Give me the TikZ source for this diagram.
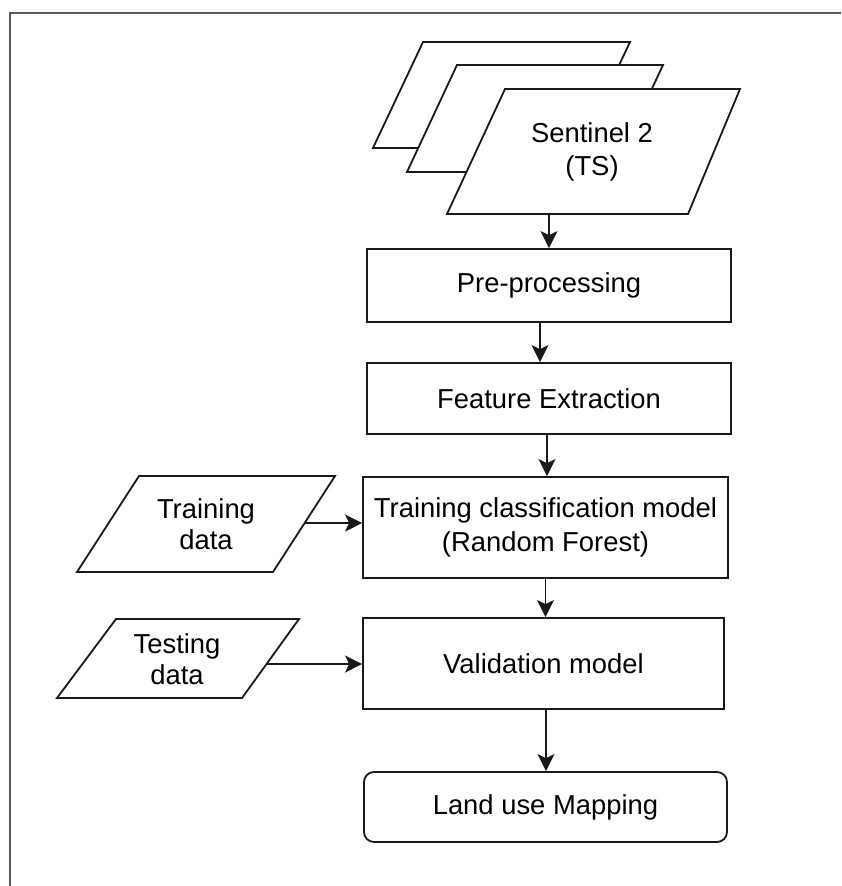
\documentclass[tikz,border=0pt]{standalone}
\usepackage{fontspec}
\setmainfont{Liberation Sans}
\usetikzlibrary{arrows.meta,calc}
\begin{document}
\begin{tikzpicture}[x=1pt,y=-1pt,
  lbl/.style={align=center,font=\fontsize{27.4}{33}\selectfont},
  datalbl/.style={align=center,font=\fontsize{27.4}{31}\selectfont},
  stepbox/.style={draw=black!90,line width=1.8pt,fill=white,minimum width=#1,inner sep=0pt,
    align=center,font=\fontsize{27.4}{34}\selectfont},
  para/.style={draw=black!90,line width=1.8pt,fill=white,line join=miter},
  arr/.style={draw=black!90,line width=1.8pt,-{Stealth[length=17pt,width=17pt,inset=4pt]}},
  frame/.style={draw=black!65,line width=2pt}]
\useasboundingbox (0,0) rectangle (841,886);
\draw[frame] (10,886) -- (10,13) -- (841,13);

% Sentinel stack
\coordinate (s1tl) at (423,42); \coordinate (s1tr) at (630,42);
\coordinate (s1br) at (580,148); \coordinate (s1bl) at (373,148);
\coordinate (s2tl) at (457,65); \coordinate (s2tr) at (663,65);
\coordinate (s2br) at (613,172); \coordinate (s2bl) at (407,172);
\coordinate (s3tl) at (505,89); \coordinate (s3tr) at (740,89);
\coordinate (s3br) at (688,214); \coordinate (s3bl) at (447,214);
\draw[para] (s1tl) -- (s1tr) -- (s1br) -- (s1bl) -- cycle;
\draw[para] (s2tl) -- (s2tr) -- (s2br) -- (s2bl) -- cycle;
\draw[para] (s3tl) -- (s3tr) -- (s3br) -- (s3bl) -- cycle;
\node[lbl] (sent) at (592,152) {Sentinel 2\\(TS)};

% main boxes
\node[stepbox=364pt,minimum height=73pt] (pre) at (549,285.5) {Pre-processing};
\node[stepbox=364pt,minimum height=71pt] (feat) at (549,398.5) {Feature Extraction};
\node[stepbox=365pt,minimum height=101pt] (train) at (545.5,527.5) {Training classification model\\(Random Forest)};
\node[stepbox=361pt,minimum height=91pt] (valid) at (543.5,663.5) {Validation model};
\node[stepbox=363pt,minimum height=70pt,rounded corners=10pt] (land) at (545.5,807) {Land use Mapping};

% data parallelograms
\coordinate (trtl) at (139,476); \coordinate (trtr) at (335,476);
\coordinate (trbr) at (273,572); \coordinate (trbl) at (77,572);
\draw[para] (trtl) -- (trtr) -- (trbr) -- (trbl) -- cycle;
\node[datalbl] (trd) at (206,524) {Training\\data};
\coordinate (trout) at ($(trtr)!0.49!(trbr)$);

\coordinate (tetl) at (116,619); \coordinate (tetr) at (299,619);
\coordinate (tebr) at (242,698); \coordinate (tebl) at (57,698);
\draw[para] (tetl) -- (tetr) -- (tebr) -- (tebl) -- cycle;
\node[datalbl] (ted) at (177,659) {Testing\\data};
\coordinate (teout) at ($(tetr)!0.57!(tebr)$);

% connectors
\draw[arr] (pre.north |- s3bl) -- (pre.north);
\draw[arr] ([xshift=-9pt]pre.south) -- ([xshift=-9pt]feat.north);
\draw[arr] ([xshift=1.5pt]feat.south -| train.north) -- ([xshift=1.5pt]train.north);
\draw[arr] (train.south) -- (train.south |- valid.north);
\draw[arr] ([xshift=2.5pt]valid.south) -- ([xshift=2.5pt]valid.south |- land.north);
\draw[arr] (trout) -- (trout -| train.west);
\draw[arr] (teout) -- (teout -| valid.west);
\end{tikzpicture}
\end{document}
